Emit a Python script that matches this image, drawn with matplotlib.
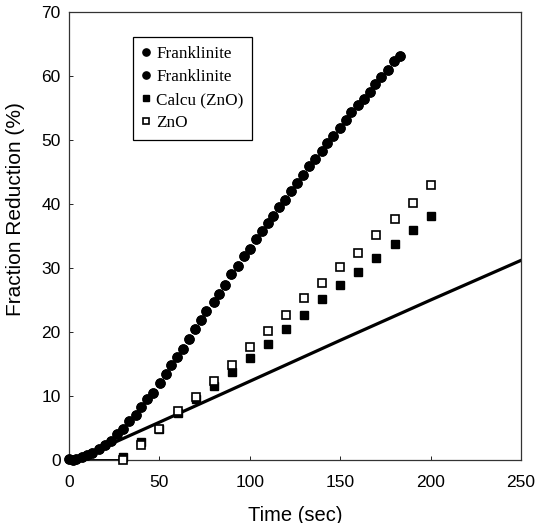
import matplotlib
matplotlib.use("Agg")
import matplotlib.pyplot as plt

# Franklinite (dense circles)
frank_t = [0, 2.3, 3.6, 7.0, 9.8, 12.7, 16.4, 19.8, 23.0, 26.8, 30.0, 33.0, 36.8, 40.0,
           43.4, 46.6, 50.4, 53.6, 56.6, 59.9, 63.1, 66.5, 69.7, 73.1, 75.9, 80.1, 83.1,
           86.3, 89.7, 93.5, 96.7, 100.1, 103.3, 106.7, 109.9, 112.7, 116.2, 119.3, 122.7,
           125.9, 129.3, 132.6, 136.3, 139.7, 142.9, 145.8, 149.9, 152.9, 156.2, 159.9,
           163.3, 166.5, 169.4, 172.8, 176.5, 179.8, 183.0]
frank_y = [0.1, 0.0, 0.1, 0.5, 0.8, 1.1, 1.7, 2.3, 3.0, 4.0, 4.8, 6.1, 7.1, 8.3,
           9.6, 10.5, 12.1, 13.4, 14.8, 16.1, 17.4, 18.9, 20.4, 21.9, 23.3, 24.7, 26.0,
           27.4, 29.0, 30.3, 31.8, 33.0, 34.5, 35.8, 37.0, 38.2, 39.6, 40.7, 42.0,
           43.3, 44.6, 45.9, 47.0, 48.3, 49.6, 50.6, 51.9, 53.1, 54.3, 55.4,
           56.4, 57.5, 58.7, 59.9, 61.0, 62.3, 63.2]

# Calcu (ZnO) filled squares and ZnO open squares
sq_t = [30, 40, 50, 60, 70, 80, 90, 100, 110, 120, 130, 140, 150, 160, 170, 180, 190, 200]
calcu_y = [0.5, 2.8, 4.9, 7.3, 9.5, 11.6, 13.8, 16.0, 18.2, 20.4, 22.7, 25.1, 27.3, 29.4,
           31.6, 33.7, 35.9, 38.1]
zno_y = [0.0, 2.4, 4.9, 7.6, 9.8, 12.3, 14.9, 17.6, 20.1, 22.7, 25.3, 27.6, 30.2, 32.4,
         35.2, 37.7, 40.2, 43.0]

# Solid curve
line_t = [0, 8, 15, 24, 50, 100, 150, 200, 250]
line_y = [0, 0.3, 1.2, 2.6, 5.9, 12.3, 18.7, 25.0, 31.2]
flat_t = [0, 30]
flat_y = [0, 0]

fig = plt.figure(figsize=(5.35, 5.23), dpi=100)
ax = fig.add_axes([0.129, 0.1205, 0.845, 0.8565])

ax.plot(line_t, line_y, color="black", lw=2.3, zorder=2)
ax.plot(flat_t, flat_y, color="black", lw=1.4, zorder=2, clip_on=False)

ax.plot(frank_t, frank_y, "o", color="black", ms=6.5, label="Franklinite", zorder=3, clip_on=False)
ax.plot(frank_t, frank_y, "o", color="black", ms=6.5, label="Franklinite", zorder=3, clip_on=False)
ax.plot(sq_t, calcu_y, "s", color="black", ms=6, label="Calcu (ZnO)", zorder=3, clip_on=False)
ax.plot(sq_t, zno_y, "s", mfc="white", mec="black", mew=1.2, ms=6, label="ZnO", zorder=4, clip_on=False)

ax.set_xlim(0, 250)
ax.set_ylim(0, 70)
ax.set_xticks([0, 50, 100, 150, 200, 250])
ax.set_yticks([0, 10, 20, 30, 40, 50, 60, 70])
ax.tick_params(direction="in", length=3, width=0.6, labelsize=12.5)
ax.tick_params(axis="x", pad=11)
ax.tick_params(axis="y", pad=6)
for lab in ax.get_xticklabels() + ax.get_yticklabels():
    lab.set_fontfamily("Liberation Sans")
for s in ax.spines.values():
    s.set_linewidth(0.9)
    s.set_color("#333333")

ax.set_xlabel("Time (sec)", fontsize=14.5, fontfamily="Liberation Sans", labelpad=11)
ax.set_ylabel("Fraction Reduction (%)", fontsize=15, fontfamily="Liberation Sans")
ax.yaxis.set_label_coords(-0.097, 0.56)

leg = ax.legend(loc="upper left", bbox_to_anchor=(0.142, 0.944), borderaxespad=0,
                prop={"family": "Liberation Serif", "size": 12.3}, fancybox=False,
                edgecolor="black", framealpha=1, handlelength=0.5, handletextpad=0.35,
                markerscale=0.8, labelspacing=0.42, borderpad=0.5)
leg.get_frame().set_linewidth(0.9)

fig.savefig("out.png", dpi=100)
